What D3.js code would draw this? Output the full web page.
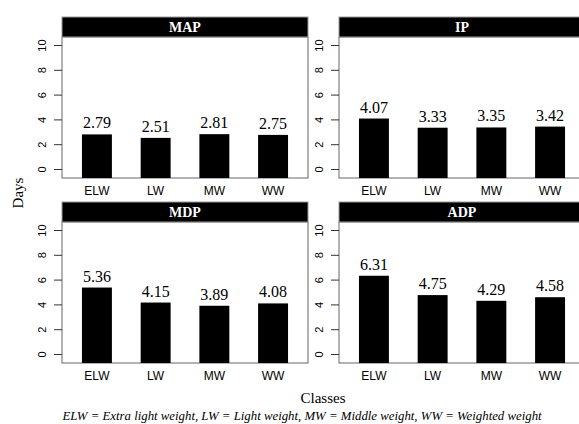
<!DOCTYPE html>
<html>
<head>
<meta charset="utf-8">
<script src="https://cdn.jsdelivr.net/npm/d3@7"></script>
<style>
  body { margin: 0; background: #fff; }
  svg { display: block; }
</style>
</head>
<body>
<div id="chart"></div>
<script>
// data
const classes = ["ELW", "LW", "MW", "WW"];
const panelTitles = ["MAP", "IP", "MDP", "ADP"];
const mapValues = [2.79, 2.51, 2.81, 2.75];
const ipValues = [4.07, 3.33, 3.35, 3.42];
const mdpValues = [5.36, 4.15, 3.89, 4.08];
const adpValues = [6.31, 4.75, 4.29, 4.58];
const yTicks = [0, 2, 4, 6, 8, 10];

const allValues = [mapValues, ipValues, mdpValues, adpValues];

const width = 579, height = 424;
const svg = d3.select("#chart").append("svg")
  .attr("width", width)
  .attr("height", height);

const serif = "'Liberation Serif', 'Times New Roman', serif";
const sans = "'Liberation Sans', Arial, sans-serif";

// panel layout: left edges and header tops
const panelW = 246;
const lefts = [62, 339];
const tops = [17, 202];
const headerH = 20;
const plotH = 141; // header bottom to axis bottom

panelTitles.forEach((title, i) => {
  const col = i % 2, row = Math.floor(i / 2);
  const x0 = lefts[col], y0 = tops[row];
  const plotTop = y0 + headerH;
  const plotBottom = plotTop + plotH;

  const x = d3.scaleBand()
    .domain(classes)
    .range([x0, x0 + panelW])
    .paddingInner(0.49)
    .paddingOuter(0.34);

  // 0 sits a bit above the frame bottom, like R barplot
  const y = d3.scaleLinear()
    .domain([0, 10])
    .range([plotBottom - 9, plotTop + 8]);

  const g = svg.append("g");

  // frame
  g.append("rect")
    .attr("x", x0).attr("y", plotTop)
    .attr("width", panelW).attr("height", plotH)
    .attr("fill", "none")
    .attr("stroke", "#666")
    .attr("stroke-width", 1);

  // header strip
  g.append("rect")
    .attr("x", x0).attr("y", y0)
    .attr("width", panelW).attr("height", headerH)
    .attr("fill", "#000")
    .attr("stroke", "#999")
    .attr("stroke-width", 1);

  g.append("text")
    .attr("x", x0 + panelW / 2)
    .attr("y", y0 + headerH / 2 + 5)
    .attr("text-anchor", "middle")
    .attr("fill", "#fff")
    .style("font-family", serif)
    .style("font-weight", "bold")
    .style("font-size", "14px")
    .text(title);

  // bars
  const vals = allValues[i];
  g.selectAll(".bar")
    .data(classes)
    .join("rect")
      .attr("x", d => x(d))
      .attr("y", (d, k) => y(vals[k]))
      .attr("width", x.bandwidth())
      .attr("height", (d, k) => plotBottom - y(vals[k]))
      .attr("fill", "#000");

  // value labels
  g.selectAll(".val")
    .data(classes)
    .join("text")
      .attr("x", d => x(d) + x.bandwidth() / 2)
      .attr("y", (d, k) => y(vals[k]) - 6)
      .attr("text-anchor", "middle")
      .style("font-family", serif)
      .style("font-size", "16px")
      .text((d, k) => vals[k].toFixed(2));

  // y axis
  const yAxis = g.append("g")
    .attr("transform", `translate(${x0},0)`)
    .call(d3.axisLeft(y).tickValues(yTicks).tickSize(8).tickFormat(d3.format("d")));
  yAxis.select(".domain").remove();
  yAxis.selectAll(".tick line").attr("stroke", "#333");
  yAxis.selectAll(".tick text")
    .attr("x", 0).attr("y", 0).attr("dy", null)
    .attr("transform", "translate(-19,0) rotate(-90)")
    .attr("text-anchor", "middle")
    .attr("dominant-baseline", "middle")
    .style("font-family", sans)
    .style("font-size", "11px")
    .attr("fill", "#000");

  // x labels
  g.selectAll(".cls")
    .data(classes)
    .join("text")
      .attr("x", d => x(d) + x.bandwidth() / 2)
      .attr("y", plotBottom + 17)
      .attr("text-anchor", "middle")
      .style("font-family", sans)
      .style("font-size", "12px")
      .text(d => d);
});

// axis titles
svg.append("text")
  .attr("transform", "translate(23,193) rotate(-90)")
  .attr("text-anchor", "middle")
  .style("font-family", serif)
  .style("font-size", "15px")
  .text("Days");

svg.append("text")
  .attr("x", 323).attr("y", 403)
  .attr("text-anchor", "middle")
  .style("font-family", serif)
  .style("font-size", "15px")
  .text("Classes");

svg.append("text")
  .attr("x", 302).attr("y", 420)
  .attr("text-anchor", "middle")
  .style("font-family", serif)
  .style("font-style", "italic")
  .style("font-size", "12.8px")
  .text("ELW = Extra light weight, LW =  Light weight, MW = Middle weight, WW = Weighted weight");
</script>
</body>
</html>
